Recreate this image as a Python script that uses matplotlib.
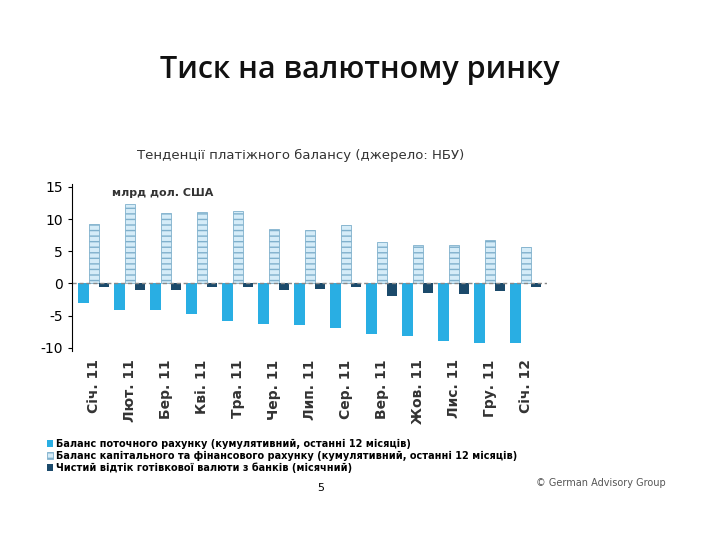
import matplotlib.pyplot as plt
import numpy as np

plt.rcParams['axes.unicode_minus'] = False

months = ['Січ. 11', 'Лют. 11', 'Бер. 11', 'Кві. 11', 'Тра. 11', 'Чер. 11', 'Лип. 11',
          'Сер. 11', 'Вер. 11', 'Жов. 11', 'Лис. 11', 'Гру. 11', 'Січ. 12']
current = [-3.0, -4.2, -4.2, -4.7, -5.8, -6.3, -6.5, -7.0, -7.8, -8.2, -8.9, -9.2, -9.2]
capital = [9.3, 12.4, 10.9, 11.1, 11.2, 8.4, 8.3, 9.0, 6.5, 5.9, 6.0, 6.8, 5.7]
cash = [-0.6, -1.1, -1.0, -0.6, -0.6, -1.0, -0.8, -0.6, -1.9, -1.5, -1.6, -1.2, -0.6]

fig = plt.figure(figsize=(7.2, 5.4), dpi=100)
fig.text(0.5, 0.855, 'Тиск на валютному ринку', ha='center', fontsize=22,
         fontweight='semibold', family='Open Sans', color='#111111')
fig.text(0.19, 0.705, 'Тенденції платіжного балансу (джерело: НБУ)', fontsize=9.5,
         color='#333333')

ax = fig.add_axes([0.10, 0.35, 0.66, 0.31])
x = np.arange(len(months))
w = 0.28
ax.bar(x - w, current, w, color='#29aee3', label='Баланс поточного рахунку (кумулятивний, останні 12 місяців)')
ax.bar(x, capital, w, color='#d5ecf8', edgecolor='#7fb0cc', hatch='---', linewidth=0.6,
       label='Баланс капітального та фінансового рахунку (кумулятивний, останні 12 місяців)')
ax.bar(x + w, cash, w, color='#1b4a6b', label='Чистий відтік готівкової валюти з банків (місячний)')
ax.axhline(0, color='#888888', lw=1, ls=(0, (3, 2)))
ax.set_ylim(-10.5, 15.5)
ax.set_xlim(-0.6, len(months) - 0.4)
ax.set_yticks([-10, -5, 0, 5, 10, 15])
ax.tick_params(axis='y', labelsize=10, length=3)
ax.set_xticks(x)
ax.set_xticklabels(months, rotation=90, fontsize=10, fontweight='bold', color='#333333')
ax.tick_params(axis='x', length=0, pad=6)
for s in ['top', 'right', 'bottom']:
    ax.spines[s].set_visible(False)
ax.text(0.5, 13.6, 'млрд дол. США', fontsize=8, fontweight='bold', color='#333333')

ax.legend(loc='upper left', bbox_to_anchor=(-0.07, -0.47), frameon=False,
          handlelength=0.6, handletextpad=0.3, labelspacing=0.2,
          prop={'weight': 'bold', 'size': 7})
fig.text(0.745, 0.1, '© German Advisory Group', fontsize=7, color='#555555')
fig.text(0.44, 0.09, '5', fontsize=8)

plt.savefig('out.png')
